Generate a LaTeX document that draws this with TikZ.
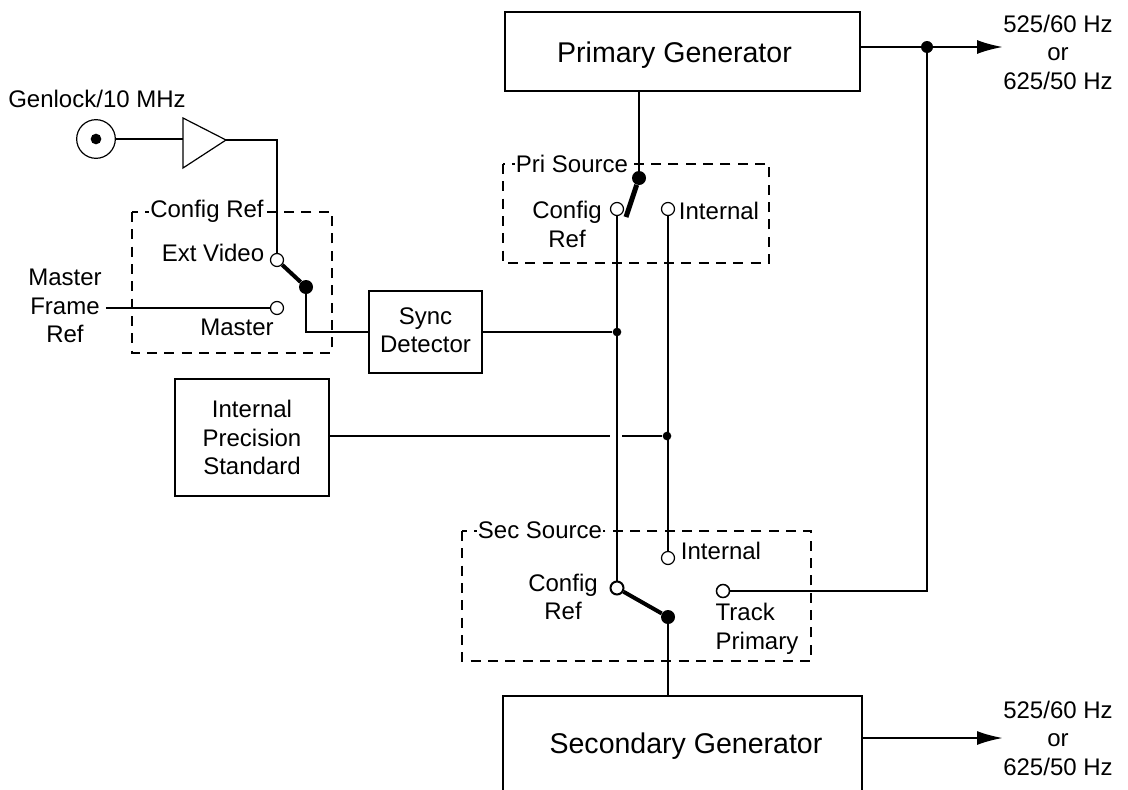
\documentclass[tikz,border=0pt]{standalone}
\usepackage{fontspec}
\setmainfont{Liberation Sans}
\usetikzlibrary{arrows.meta}

\tikzset{
  wire/.style={line width=1.3pt},
  heavy/.style={line width=1.7pt},
  lever/.style={line width=3pt},
  dashbox/.style={line width=1.5pt,dash pattern=on 7.5pt off 5.5pt},
  box/.style={draw,line width=1.05pt,minimum width=#1},
  port/.style={circle,draw,fill=white,inner sep=0pt,minimum size=9.75pt,line width=.9pt},
  pivot/.style={circle,fill=black,inner sep=0pt,minimum size=10.5pt},
  junction/.style={circle,fill=black,inner sep=0pt,minimum size=6.5pt},
  txt/.style={inner sep=0pt,align=center,font=\fontsize{18}{21.4}\selectfont},
  big/.style={inner sep=0pt,font=\fontsize{21.4}{25}\selectfont},
  tag/.style={txt,fill=white,inner xsep=1pt,inner ysep=1pt},
}

\begin{document}
\begin{tikzpicture}[x=.75pt,y=-.75pt,>={Latex[length=19.5pt,width=10.5pt]}]
\useasboundingbox (0,0) rectangle (1128,789);

% dashed switch frames
\draw[dashbox] (132,212) rectangle (332,353);
\draw[dashbox] (503,164) rectangle (769,263);
\draw[dashbox] (462,531) rectangle (811,661);
\node[tag] (cfgframe) at (207,211) {Config Ref};
\node[tag] (priframe) at (572,164) {Pri Source};
\node[tag] (secframe) at (540,530) {Sec Source};

% blocks
\node[box=266.5pt,minimum height=59.5pt] (prigen) at (682.5,51.5) {};
\node[big] (prilabel) at (674.5,55) {Primary Generator};
\node[box=269pt,minimum height=76.5pt] (secgen) at (682.5,747) {};
\node[big] (seclabel) at (686,746) {Secondary Generator};
\node[box=85pt,minimum height=61.5pt,txt,inner sep=0pt] (sync) at (425.5,332) {};
\node[txt] (synclabel) at (425.5,330) {Sync\\Detector};
\node[box=115.5pt,minimum height=87.5pt,txt,inner sep=0pt,line width=1.5pt] (ips) at (252,437.5) {Internal\\Precision\\Standard};

% genlock input
\node[txt] (genlock) at (97,99) {Genlock/10 MHz};
\node[circle,draw,line width=.9pt,inner sep=0pt,minimum size=29pt] (bnc) at (96,139) {};
\node[circle,fill=black,inner sep=0pt,minimum size=8pt] (bncpin) at (96,139) {};
\coordinate (ampin) at (183,139);
\coordinate (amptop) at (183,118);
\coordinate (ampbot) at (183,168);
\coordinate (ampout) at (226,140);
\draw[fill=white,line width=.9pt] (amptop) -- (ampout) -- (ampbot) -- cycle;
\node[txt] (mfr) at (65,306) {Master\\Frame\\Ref};

% config ref switch
\node[port] (ext) at (277,260) {};
\node[port] (mst) at (277,308) {};
\node[pivot] (cfgpiv) at (306,287) {};
\node[txt] (extlabel) at (213,253) {Ext Video};
\node[txt] (mstlabel) at (237,327) {Master};
\draw[wire] (bnc) -- (ampin);
\draw[wire] (ampout) -| (ext);
\draw[wire] (mfr.east |- mst) ++(4,0) -- (mst);
\draw[wire] (cfgpiv) |- (sync);
\draw[lever] (ext) -- (cfgpiv);

% pri source switch
\node[port] (pricfg) at (617,209) {};
\node[port] (priint) at (668,209) {};
\node[pivot] (pripiv) at (639,178) {};
\coordinate (prilever) at (626,217);
\node[txt] (pricfglabel) at (567,224.5) {Config\\Ref};
\node[txt] (priintlabel) at (719,211) {Internal};
\draw[wire] (prigen.south -| pripiv) -- (pripiv);
\draw[lever,line width=3.75pt] (pripiv) -- (prilever);

% sec source switch
\node[port,line width=1.5pt] (seccfg) at (617,588) {};
\node[port] (secint) at (668,558) {};
\node[port,line width=1.15pt] (sectrk) at (723,591) {};
\node[pivot] (secpiv) at (668,617) {};
\node[txt] (seccfglabel) at (563,597) {Config\\Ref};
\node[txt] (secintlabel) at (721,551) {Internal};
\node[txt,align=left] (sectrklabel) at (757,629) {Track\\Primary};
\draw[wire] (secpiv) -- (secpiv |- secgen.north);
\draw[lever] (seccfg) -- (secpiv);

% distribution
\node[junction] (syncjn) at (617,332) {};
\node[junction] (intjn) at (667,436) {};
\node[pivot,minimum size=9pt] (outjn) at (927,47) {};
\coordinate (gapl) at (610,436);
\coordinate (gapr) at (622,436);
\draw[wire] (sync) -- (syncjn);
\draw[heavy,line width=1.5pt] (pricfg) -- (seccfg);
\draw[wire] (priint) -- (secint);
\draw[wire] (ips.east |- intjn) -- (gapl);
\draw[wire] (gapr) -- (intjn);
\draw[heavy] (outjn) |- (sectrk);

% outputs
\coordinate (priout) at (1003,47);
\coordinate (secout) at (1003,738);
\node[txt] (prirate) at (1058,52) {525/60 Hz\\or\\625/50 Hz};
\node[txt] (secrate) at (1058,738) {525/60 Hz\\or\\625/50 Hz};
\draw[heavy,->] (prigen.east |- priout) -- (priout);
\draw[heavy,->] (secgen.east |- secout) -- (secout);

\end{tikzpicture}
\end{document}
